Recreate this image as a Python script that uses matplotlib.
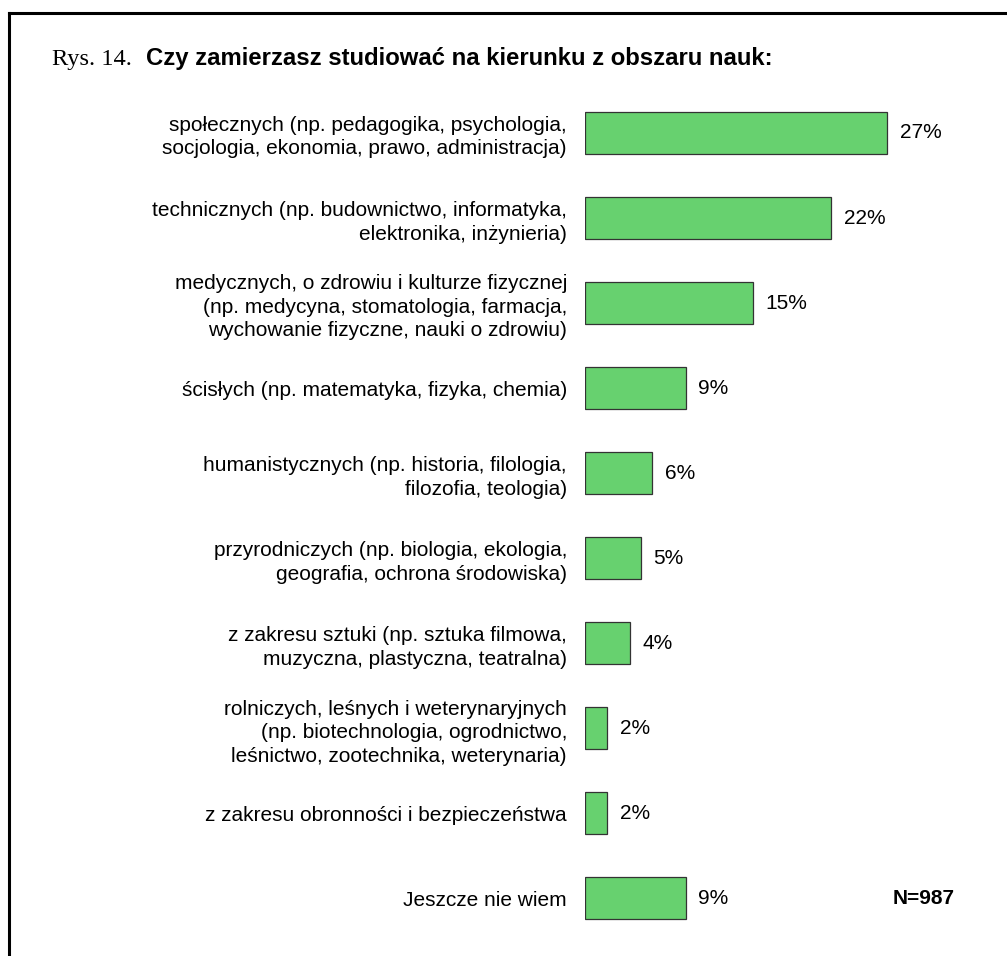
"""Rys. 14 - kierunki studiow, poziomy wykres slupkowy."""

import matplotlib
matplotlib.use("Agg")
import matplotlib.pyplot as plt
from matplotlib.lines import Line2D

categories = [
    "społecznych (np. pedagogika, psychologia,\nsocjologia, ekonomia, prawo, administracja)",
    "technicznych (np. budownictwo, informatyka,\nelektronika, inżynieria)",
    "medycznych, o zdrowiu i kulturze fizycznej\n(np. medycyna, stomatologia, farmacja,\nwychowanie fizyczne, nauki o zdrowiu)",
    "ścisłych (np. matematyka, fizyka, chemia)",
    "humanistycznych (np. historia, filologia,\nfilozofia, teologia)",
    "przyrodniczych (np. biologia, ekologia,\ngeografia, ochrona środowiska)",
    "z zakresu sztuki (np. sztuka filmowa,\nmuzyczna, plastyczna, teatralna)",
    "rolniczych, leśnych i weterynaryjnych\n(np. biotechnologia, ogrodnictwo,\nleśnictwo, zootechnika, weterynaria)",
    "z zakresu obronności i bezpieczeństwa",
    "Jeszcze nie wiem",
]
values = [27, 22, 15, 9, 6, 5, 4, 2, 2, 9]
sample_note = "N=987"
fig_prefix = "Rys. 14."
title = "Czy zamierzasz studiować na kierunku z obszaru nauk:"

plt.rcParams["font.family"] = ["Liberation Sans", "DejaVu Sans"]

W, H = 1007, 956
fig = plt.figure(figsize=(W / 100, H / 100), dpi=100)
fig.patch.set_facecolor("white")

# axes placed in pixels: x=0 at 585px, 11.2 px per percent
x0, px_per = 585, 11.2
xmax = 30
y_first, y_step = 133, 85.05
n = len(values)
top_px = y_first - y_step / 2
bot_px = y_first + y_step * (n - 1) + y_step / 2
ax = fig.add_axes([x0 / W, (H - bot_px) / H, xmax * px_per / W, (bot_px - top_px) / H])

ypos = list(range(n))
ax.barh(ypos, values, height=0.495, color="#67d16f", edgecolor="#333333", linewidth=0.9)
for y, v in zip(ypos, values):
    ax.annotate(f"{v}%", xy=(v, y), xytext=(9, 0), textcoords="offset points",
                ha="left", va="center", fontsize=15, color="black")

ax.set_xlim(0, xmax)
ax.set_ylim(n - 0.5, -0.5)
ax.set_yticks(ypos)
ax.set_yticklabels(categories, fontsize=15, ha="right", linespacing=1.3)
ax.tick_params(axis="y", length=0, pad=13)
ax.set_xticks([])
for s in ax.spines.values():
    s.set_visible(False)

ax.text(27.5, n - 1, sample_note, ha="left", va="center", fontsize=15, fontweight="bold")

fig.text(52 / W, 1 - 59 / H, fig_prefix, ha="left", va="center", fontsize=17.6,
         family="Liberation Serif")
fig.text(146 / W, 1 - 59 / H, title, ha="left", va="center", fontsize=17.2, fontweight="bold")

# frame (left and top edges visible)
fig.add_artist(Line2D([9 / W, 9 / W], [0, 1 - 13 / H], transform=fig.transFigure,
                      color="black", linewidth=2.2, solid_capstyle="projecting"))
fig.add_artist(Line2D([9 / W, 1], [1 - 13 / H, 1 - 13 / H], transform=fig.transFigure,
                      color="black", linewidth=2.2, solid_capstyle="projecting"))

fig.savefig("out.png", dpi=100)
